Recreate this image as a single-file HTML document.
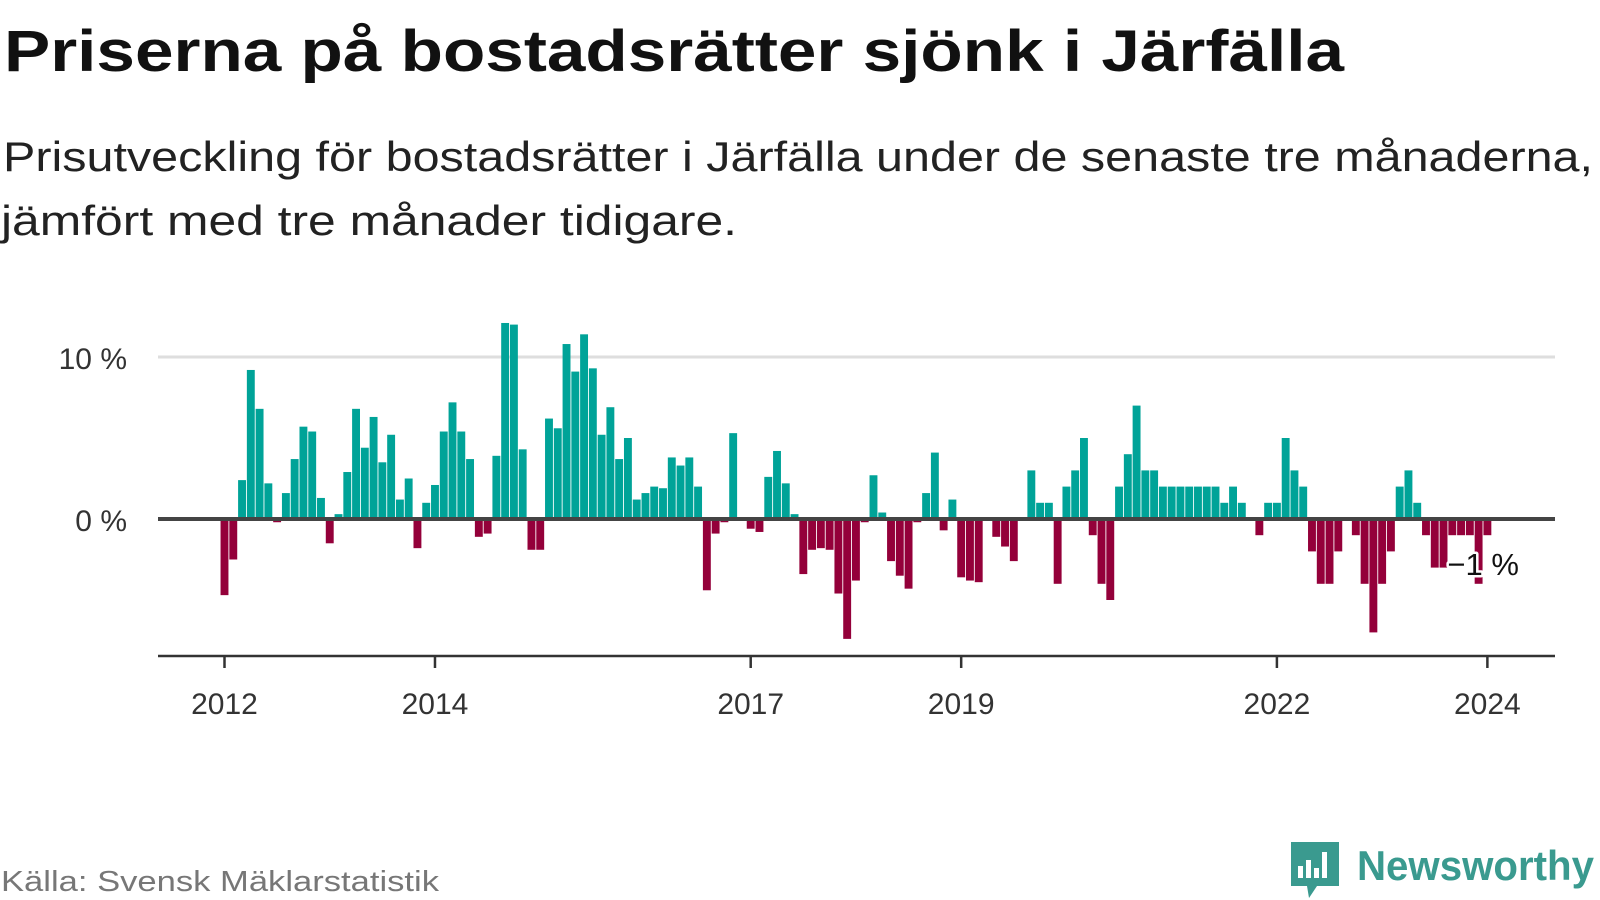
<!DOCTYPE html>
<html><head><meta charset="utf-8">
<style>
html,body{margin:0;padding:0;background:#fff;}
svg{display:block;font-family:"Liberation Sans",sans-serif;}
</style></head>
<body>
<svg id="chart" width="1600" height="900" viewBox="0 0 1600 900" xmlns="http://www.w3.org/2000/svg">
  <text x="4" y="71" font-size="58" font-weight="bold" fill="#111" textLength="1340" lengthAdjust="spacingAndGlyphs">Priserna på bostadsrätter sjönk i Järfälla</text>
  <text x="3" y="171" font-size="42" fill="#222" textLength="1590" lengthAdjust="spacingAndGlyphs">Prisutveckling för bostadsrätter i Järfälla under de senaste tre månaderna,</text>
  <text x="1" y="235" font-size="42" fill="#222" textLength="736" lengthAdjust="spacingAndGlyphs">jämfört med tre månader tidigare.</text>
  <g id="grid"></g>
  <g id="bars"></g>
  <g id="axes"></g>
  <text x="1" y="891" font-size="29" fill="#777" textLength="438" lengthAdjust="spacingAndGlyphs">Källa: Svensk Mäklarstatistik</text>
  <g>
    <path d="M1291 842 h48 v44 h-22 l-8 12 l-2 -12 h-16 z" fill="#3a9a8f"/>
    <rect x="1298" y="866" width="5" height="12" fill="#fff"/>
    <rect x="1306" y="860" width="5" height="18" fill="#fff"/>
    <rect x="1314" y="868" width="5" height="10" fill="#fff"/>
    <rect x="1322" y="852" width="5" height="26" fill="#fff"/>
    <text x="1357" y="880" font-size="42" font-weight="bold" fill="#3a9a8f" textLength="237" lengthAdjust="spacingAndGlyphs">Newsworthy</text>
  </g>
</svg>
<script>
// Monthly values, 2012-01 .. 2024-01
const values = [
-4.7,-2.5,2.4,9.2,6.8,2.2,-0.2,1.6,3.7,5.7,5.4,1.3,
-1.5,0.3,2.9,6.8,4.4,6.3,3.5,5.2,1.2,2.5,-1.8,1.0,
2.1,5.4,7.2,5.4,3.7,-1.1,-0.9,3.9,12.1,12.0,4.3,-1.9,
-1.9,6.2,5.6,10.8,9.1,11.4,9.3,5.2,6.9,3.7,5.0,1.2,
1.6,2.0,1.9,3.8,3.3,3.8,2.0,-4.4,-0.9,-0.2,5.3,0,
-0.6,-0.8,2.6,4.2,2.2,0.3,-3.4,-1.9,-1.8,-1.9,-4.6,-7.4,
-3.8,-0.2,2.7,0.4,-2.6,-3.5,-4.3,-0.2,1.6,4.1,-0.7,1.2,
-3.6,-3.8,-3.9,0,-1.1,-1.7,-2.6,0,3.0,1.0,1.0,-4.0,
2.0,3.0,5.0,-1.0,-4.0,-5.0,2.0,4.0,7.0,3.0,3.0,2.0,
2.0,2.0,2.0,2.0,2.0,2.0,1.0,2.0,1.0,0,-1.0,1.0,
1.0,5.0,3.0,2.0,-2.0,-4.0,-4.0,-2.0,0,-1.0,-4.0,-7.0,
-4.0,-2.0,2.0,3.0,1.0,-1.0,-3.0,-3.0,-1.0,-1.0,-1.0,-4.0,
-1.0
];
const startYear = 2012;
const xTickYears = [2012, 2014, 2017, 2019, 2022, 2024];
const yTicks = [0, 10];
const yTickLabels = ["0 %", "10 %"];
const lastLabel = "−1 %";

const NS = "http://www.w3.org/2000/svg";
const x0 = 224.5, monthW = 8.77;
const xScale = i => x0 + i * monthW;
const yZero = 519, pxPerPct = 16.2;
const yScale = v => yZero - v * pxPerPct;
const plotL = 158, plotR = 1555, axisY = 656;

function mk(tag, attrs, parent) {
  const e = document.createElementNS(NS, tag);
  for (const k in attrs) e.setAttribute(k, attrs[k]);
  parent.appendChild(e);
  return e;
}
const grid = document.getElementById('grid');
const bars = document.getElementById('bars');
const axes = document.getElementById('axes');

yTicks.forEach((t, i) => {
  if (t !== 0) {
    const l = mk('line', {x1: plotL, x2: plotR, y1: yScale(t), y2: yScale(t), stroke: '#dedede', 'stroke-width': 3}, grid);
    
    
  }
  const tx = mk('text', {x: 127, y: yScale(t) + 12, 'font-size': 30, fill: '#333', 'text-anchor': 'end'}, axes);
  tx.textContent = yTickLabels[i];
  
  
});

values.forEach((v, i) => {
  const cx = xScale(i);
  const y1 = yScale(Math.max(v, 0)), y2 = yScale(Math.min(v, 0));
  const r = mk('rect', {x: cx - 3.95, y: y1, width: 7.9, height: Math.max(0, y2 - y1), fill: v >= 0 ? '#00a398' : '#94003a'}, bars);
  
  
});

const zl = mk('line', {x1: plotL, x2: plotR, y1: yZero, y2: yZero, stroke: '#444', 'stroke-width': 4}, axes);


const xa = mk('line', {x1: plotL, x2: plotR, y1: axisY, y2: axisY, stroke: '#333', 'stroke-width': 2.5}, axes);



xTickYears.forEach(yr => {
  const x = xScale((yr - startYear) * 12);
  const tk = mk('line', {x1: x, x2: x, y1: axisY, y2: axisY + 12, stroke: '#333', 'stroke-width': 2.5}, axes);
  
  
  const tx = mk('text', {x: x, y: 714, 'font-size': 30, fill: '#333', 'text-anchor': 'middle'}, axes);
  tx.textContent = String(yr);
  
  
});

const lastX = xScale(values.length - 1);
const lbl = mk('text', {x: lastX - 40, y: 575, 'font-size': 31, fill: '#111', stroke: '#fff', 'stroke-width': 5, 'paint-order': 'stroke', 'stroke-linejoin': 'round'}, axes);
lbl.textContent = lastLabel;


</script>
</body></html>
